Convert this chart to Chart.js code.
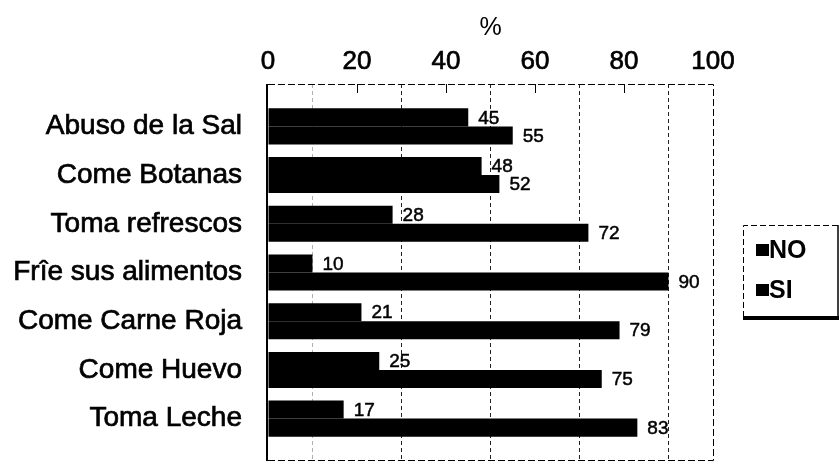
<!DOCTYPE html>
<html>
<head>
<meta charset="utf-8">
<title>Hábitos alimenticios</title>
<script src="https://cdn.jsdelivr.net/npm/chart.js@4.4.0/dist/chart.umd.min.js"></script>
<style>
  body { margin: 0; background: #fff; }
  #wrap { width: 840px; height: 463px; }
</style>
</head>
<body>
<div id="wrap"><canvas id="habitosCanvas" width="840" height="463"></canvas></div>
<script>
const categorias = [
  'Abuso de la Sal',
  'Come Botanas',
  'Toma refrescos',
  'Frîe sus alimentos',
  'Come Carne Roja',
  'Come Huevo',
  'Toma Leche'
];
const valoresNO = [45, 48, 28, 10, 21, 25, 17];
const valoresSI = [55, 52, 72, 90, 79, 75, 83];
const ticksX = [0, 20, 40, 60, 80, 100];

const FUENTE = "'Liberation Sans', Arial, sans-serif";

// each bar sits at its category index on a linear y axis, so the
// plot frame can keep some empty space above and below the groups
function puntos(valores) {
  return valores.map((v, i) => ({ x: v, y: i }));
}

// dashed frame, solid left axis and the little marks under the top edge
const marco = {
  id: 'marco',
  afterDatasetsDraw(chart) {
    const { ctx, chartArea: a, scales } = chart;
    ctx.save();
    ctx.strokeStyle = '#000';
    ctx.lineWidth = 1;
    ctx.setLineDash([7, 3]);
    ctx.beginPath();
    ctx.moveTo(a.left, a.top + 0.5);
    ctx.lineTo(a.right + 0.5, a.top + 0.5);
    ctx.lineTo(a.right + 0.5, a.bottom - 0.5);
    ctx.lineTo(a.left, a.bottom - 0.5);
    ctx.stroke();
    ctx.setLineDash([]);
    ctx.lineWidth = 2;
    ctx.beginPath();
    ctx.moveTo(a.left - 1, a.top);
    ctx.lineTo(a.left - 1, a.bottom);
    ctx.stroke();
    ctx.lineWidth = 1;
    ctx.beginPath();
    ticksX.slice(1, -1).forEach(t => {
      const x = Math.round(scales.x.getPixelForValue(t)) + 0.5;
      ctx.moveTo(x, a.top);
      ctx.lineTo(x, a.top + 9);
    });
    ctx.stroke();
    ctx.restore();
  }
};

// value written just past the end of every bar
const etiquetas = {
  id: 'etiquetas',
  afterDatasetsDraw(chart) {
    const ctx = chart.ctx;
    ctx.save();
    ctx.fillStyle = '#000';
    ctx.strokeStyle = '#000';
    ctx.lineWidth = 0.5;
    ctx.font = '19px ' + FUENTE;
    ctx.textAlign = 'left';
    ctx.textBaseline = 'middle';
    chart.data.datasets.forEach((ds, d) => {
      chart.getDatasetMeta(d).data.forEach((bar, i) => {
        const txt = String(ds.data[i].x);
        ctx.fillText(txt, bar.x + 10, bar.y + 1);
        ctx.strokeText(txt, bar.x + 10, bar.y + 1);
      });
    });
    ctx.restore();
  }
};

// boxed legend on the right, with the heavy bottom edge
const leyenda = {
  id: 'leyenda',
  afterDraw(chart) {
    const ctx = chart.ctx;
    const x0 = 743, y0 = 225, w = 95, h = 92;
    ctx.save();
    ctx.strokeStyle = '#000';
    ctx.lineWidth = 1;
    ctx.setLineDash([6, 3]);
    ctx.beginPath();
    ctx.moveTo(x0 + 0.5, y0 + h);
    ctx.lineTo(x0 + 0.5, y0 + 0.5);
    ctx.lineTo(x0 + w, y0 + 0.5);
    ctx.stroke();
    ctx.setLineDash([]);
    ctx.lineWidth = 1.5;
    ctx.beginPath();
    ctx.moveTo(x0 + w, y0);
    ctx.lineTo(x0 + w, y0 + h);
    ctx.stroke();
    ctx.fillStyle = '#000';
    ctx.fillRect(x0, y0 + h - 1, w + 1, 4);

    ctx.font = 'bold 25px ' + FUENTE;
    ctx.textBaseline = 'middle';
    chart.data.datasets.forEach((ds, d) => {
      const y = y0 + 25 + d * 40;
      ctx.fillStyle = ds.backgroundColor;
      ctx.fillRect(x0 + 13, y - 6, 13, 12);
      ctx.fillStyle = '#000';
      ctx.fillText(ds.label, x0 + 26, y + 1);
    });
    ctx.restore();
  }
};

new Chart(document.getElementById('habitosCanvas'), {
  type: 'bar',
  data: {
    datasets: [
      { label: 'NO', data: puntos(valoresNO), backgroundColor: '#000', borderWidth: 0 },
      { label: 'SI', data: puntos(valoresSI), backgroundColor: '#000', borderWidth: 0 }
    ]
  },
  options: {
    indexAxis: 'y',
    responsive: false,
    animation: false,
    devicePixelRatio: 1,
    layout: { padding: { left: 0, top: 0, right: 127, bottom: 2 } },
    categoryPercentage: 0.74,
    barPercentage: 1.0,
    plugins: {
      legend: { display: false },
      tooltip: { enabled: false }
    },
    scales: {
      x: {
        type: 'linear',
        position: 'top',
        min: 0,
        max: 100,
        afterFit: s => { s.height = 84; },
        title: {
          display: true,
          text: '%',
          color: '#000',
          font: { family: FUENTE, size: 25 },
          padding: { top: 13, bottom: 0 }
        },
        ticks: {
          stepSize: 10,
          autoSkip: false,
          maxRotation: 0,
          color: '#000',
          textStrokeColor: '#000',
          textStrokeWidth: 0.7,
          padding: 7,
          font: { family: FUENTE, size: 26 },
          callback: v => ticksX.includes(v) ? v : ''
        },
        grid: {
          drawTicks: false,
          color: c => {
            const v = c.tick ? c.tick.value : 0;
            if (v === 10) return '#b0b0b0';
            if (v % 20 === 10) return '#222';
            return 'rgba(0,0,0,0)';
          },
          tickBorderDash: [4, 3]
        },
        border: { display: false, dash: [4, 3] }
      },
      y: {
        type: 'linear',
        reverse: true,
        offset: false,
        min: -0.87,
        max: 6.87,
        afterFit: s => {
          s.width = 268;
          s.paddingTop = 0;
          s.paddingBottom = 0;
        },
        afterBuildTicks: s => { s.ticks = categorias.map((c, i) => ({ value: i })); },
        ticks: {
          autoSkip: false,
          color: '#000',
          textStrokeColor: '#000',
          textStrokeWidth: 0.7,
          padding: 18,
          font: { family: FUENTE, size: 28 },
          callback: v => categorias[v]
        },
        grid: { display: false, offset: false },
        border: { display: false }
      }
    }
  },
  plugins: [marco, etiquetas, leyenda]
});
</script>
</body>
</html>
